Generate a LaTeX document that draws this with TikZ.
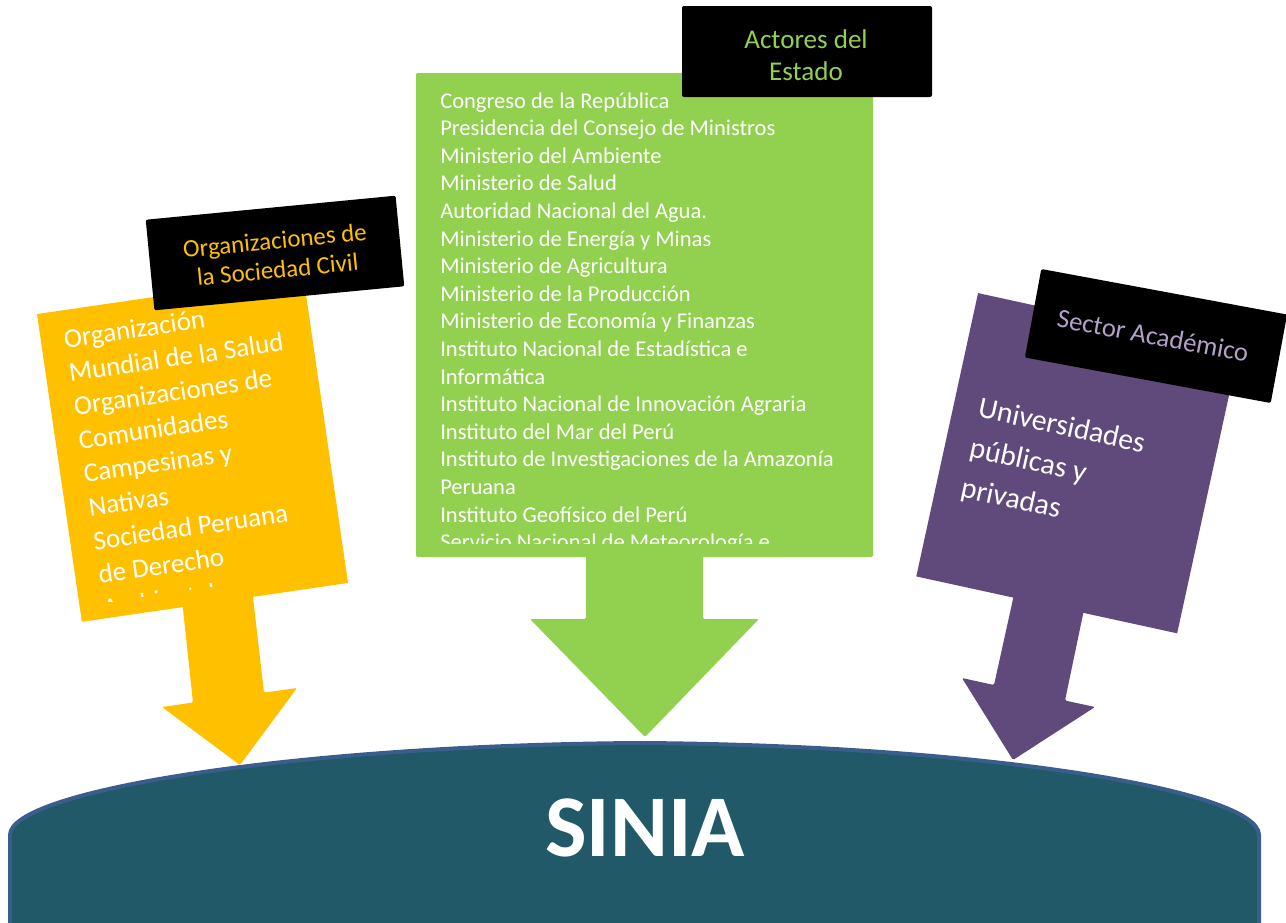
\documentclass[tikz,border=0pt]{standalone}
\usepackage{fontspec}
\setmainfont{Carlito}
\definecolor{civgold}{HTML}{FFC000}
\definecolor{estgreen}{HTML}{92D050}
\definecolor{acapurple}{HTML}{604A7B}
\definecolor{acalav}{HTML}{B3A2C7}
\definecolor{siniafill}{HTML}{215968}
\definecolor{siniaedge}{HTML}{3A5E8C}
\begin{document}
\begin{tikzpicture}[x=0.75pt,y=-0.75pt,
  labelbox/.style={fill=black, rounded corners=1.5pt},
  listtext/.style={anchor=base west, inner sep=0pt, text=white},
  bigarrow/.style={rounded corners=1pt}]
\useasboundingbox (0,0) rectangle (1286,922);

% SINIA dome
\path[fill=siniafill, draw=siniaedge, line width=3pt]
  (10,935) -- (10,835) .. controls (10,790) and (300,745) .. (640,743)
  .. controls (980,745) and (1259,790) .. (1259,835) -- (1259,935);
\node[font=\bfseries\fontsize{66}{66}\selectfont, text=white, inner sep=0pt] (sinia) at (645,828) {SINIA};

% ---------- Actores del Estado (green) ----------
\fill[estgreen, bigarrow] (586,550) -- (586,619) -- (530,619) -- (645,737) -- (759,619) -- (703,619) -- (703,550) -- cycle;
\fill[estgreen, rounded corners=1pt] (416,73) rectangle (873,557);
\begin{scope}
\clip (416,73) rectangle (873,543);
\node[listtext, font=\fontsize{16.9}{20.7}\selectfont] (estlist) at (440,108) {\begin{tabular}[t]{@{}l@{}}
Congreso de la República\\
Presidencia del Consejo de Ministros\\
Ministerio del Ambiente\\
Ministerio de Salud\\
Autoridad Nacional del Agua.\\
Ministerio de Energía y Minas\\
Ministerio de Agricultura\\
Ministerio de la Producción\\
Ministerio de Economía y Finanzas\\
Instituto Nacional de Estadística e\\
Informática\\
Instituto Nacional de Innovación Agraria\\
Instituto del Mar del Perú\\
Instituto de Investigaciones de la Amazonía\\
Peruana\\
Instituto Geofísico del Perú\\
Servicio Nacional de Meteorología e\\
Hidrología
\end{tabular}};
\end{scope}
\fill[labelbox] (682,6) rectangle (932,97);
\node[text=estgreen, align=center, font=\fontsize{20.3}{24}\selectfont] (estlabel) at (806,55) {Actores del\\Estado};

% ---------- Organizaciones de la Sociedad Civil (gold) ----------
\fill[civgold, bigarrow] (181,590) -- (193,702.5) -- (162,707) -- (240,765) -- (297,688) -- (264,692.6) -- (251,580) -- cycle;
\begin{scope}[shift={(192.5,448.5)}, rotate=8.3, transform shape]
\fill[civgold] (-134.5,-155.5) rectangle (134.5,155.5);
\begin{scope}
\clip (-134.5,-155.5) rectangle (134.5,139.5);
\node[listtext, font=\fontsize{20.3}{25.5}\selectfont] (civlist) at (-111.5,-117.5) {\begin{tabular}[t]{@{}l@{}}
Organización\\
Mundial de la Salud\\
Organizaciones de\\
Comunidades\\
Campesinas y\\
Nativas\\
Sociedad Peruana\\
de Derecho\\
Ambiental
\end{tabular}};
\end{scope}
\end{scope}
\begin{scope}[shift={(275,253)}, rotate=5.5, transform shape]
\fill[labelbox] (-125.5,-45.5) rectangle (125.5,45.5);
\node[text=civgold, align=center, font=\fontsize{18.7}{22}\selectfont] (civlabel) at (1,2) {Organizaciones de\\la Sociedad Civil};
\end{scope}

% ---------- Sector Académico (purple) ----------
\fill[acapurple, bigarrow] (1015,590) -- (994,685) -- (962,678) -- (1013,760) -- (1095,707) -- (1065,700.5) -- (1086,600) -- cycle;
\begin{scope}[shift={(1077.6,463.2)}, rotate=-12.3, transform shape]
\fill[acapurple] (-133.5,-145) rectangle (133.5,145);
\node[listtext, font=\fontsize{22.3}{30.7}\selectfont] (acalist) at (-108.5,-24) {\begin{tabular}[t]{@{}l@{}}
Universidades\\
públicas y\\
privadas
\end{tabular}};
\end{scope}
\begin{scope}[shift={(1156,336)}, rotate=-10.5, transform shape]
\fill[labelbox] (-125,-45) rectangle (125,45);
\node[text=acalav, font=\fontsize{20}{24}\selectfont] (acalabel) at (-3,0) {Sector Académico};
\end{scope}
\end{tikzpicture}
\end{document}
